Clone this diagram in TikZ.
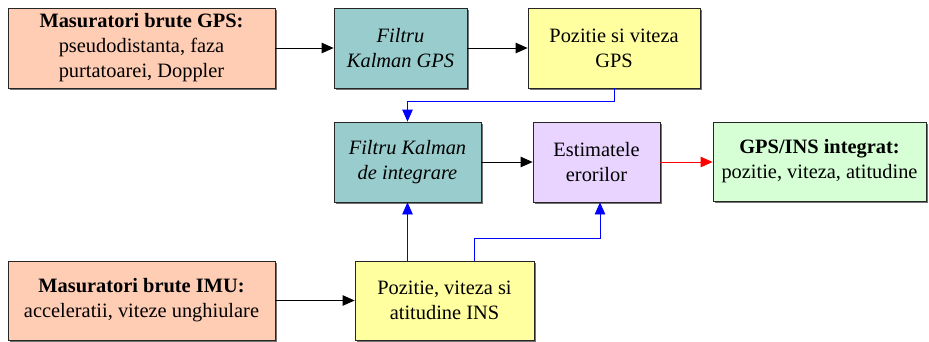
\documentclass[tikz,border=0pt]{standalone}
\usepackage{fontspec}
\setmainfont{Liberation Serif}
\usetikzlibrary{arrows.meta,shadows,calc}

\definecolor{peach}{RGB}{255,204,180}
\definecolor{kfteal}{RGB}{153,204,204}
\definecolor{paleyellow}{RGB}{255,255,160}
\definecolor{lavender}{RGB}{232,212,255}
\definecolor{mint}{RGB}{214,255,214}

\tikzset{
  box/.style={draw=black!85, line width=0.8pt, align=center, inner sep=0pt,
    minimum height=80pt, font=\fontsize{20.4}{25}\selectfont,
    drop shadow={shadow xshift=1.6pt, shadow yshift=-1.6pt, fill=black!55, opacity=1}},
  link/.style={line width=0.8pt, -{Triangle[length=12pt,width=10.5pt]}},
  feed/.style={link, blue},
  redlink/.style={link, red},
}

\begin{document}
\begin{tikzpicture}[x=1pt,y=-1pt]
\useasboundingbox (0,0) rectangle (929,341);

% GPS branch
\node[box, fill=peach, minimum width=267pt] (gpsraw) at (141.5,48)
  {\textbf{Masuratori brute GPS:}\\pseudodistanta, faza\\purtatoarei, Doppler};
\node[box, fill=kfteal, minimum width=133pt] (kfgps) at (400.5,48)
  {\textit{Filtru}\\\textit{Kalman GPS}};
\node[box, fill=paleyellow, minimum width=172pt] (pvgps) at (614,48)
  {Pozitie si viteza\\GPS};

% integration stage
\node[box, fill=kfteal, minimum width=147pt] (kfint) at (407.5,162)
  {\textit{Filtru Kalman}\\\textit{de integrare}};
\node[box, fill=lavender, minimum width=127pt] (errest) at (596.5,162)
  {Estimatele\\erorilor};
\node[box, fill=mint, minimum width=213pt, minimum height=79pt] (result) at (819.5,161.5)
  {\textbf{GPS/INS integrat:}\\pozitie, viteza, atitudine};

% IMU branch
\node[box, fill=peach, minimum width=267pt, minimum height=79pt] (imuraw) at (141.5,300.5)
  {\textbf{Masuratori brute IMU:}\\acceleratii, viteze unghiulare};
\node[box, fill=paleyellow, minimum width=179pt, minimum height=79pt] (pvins) at (444.5,300.5)
  {Pozitie, viteza si\\atitudine INS};

% connectors
\draw[link] (gpsraw) -- (kfgps);
\draw[link] (kfgps) -- (pvgps);
\draw[feed] (pvgps.south) -- ++(0,13) -| (kfint.north);
\draw[link] (kfint) -- (errest);
\draw[redlink] (errest) -- (result.west |- errest);
\draw[link] (imuraw) -- (pvins);
\draw[feed] (kfint.south |- pvins.north) -- (kfint.south);
\draw[feed] ($(pvins.north)+(30,0)$) -- ++(0,-22) -| ($(errest.south)+(3.5,0)$);
\end{tikzpicture}
\end{document}
